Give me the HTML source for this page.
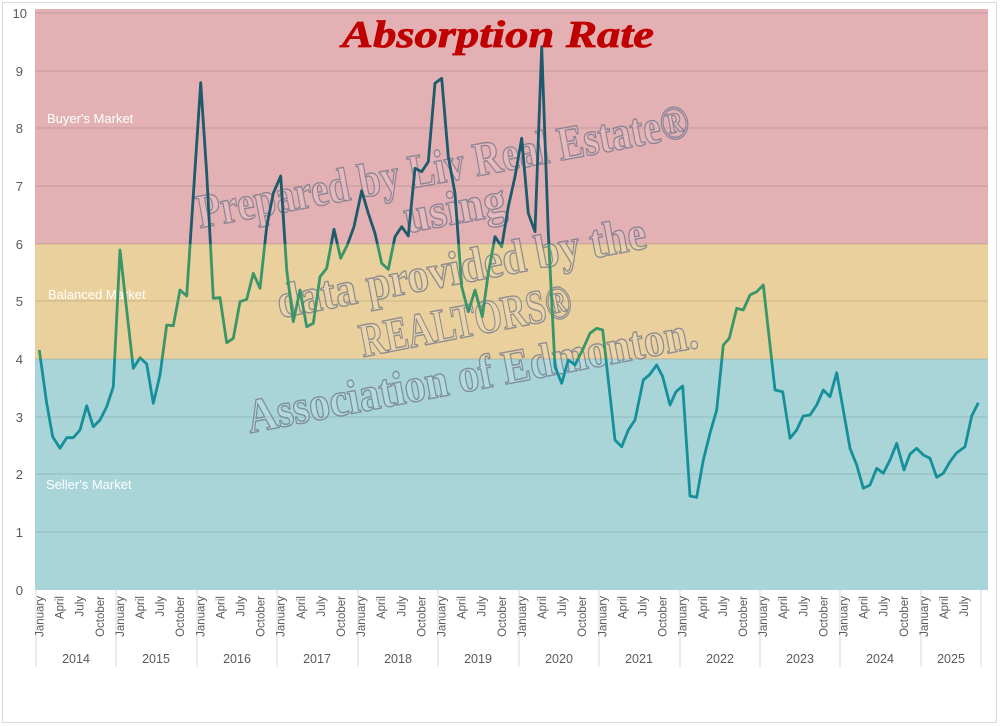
<!DOCTYPE html>
<html><head><meta charset="utf-8"><style>
html,body{margin:0;padding:0;background:#fff;}
svg{display:block;}
</style></head><body>
<svg width="1000" height="726" viewBox="0 0 1000 726" xmlns="http://www.w3.org/2000/svg" font-family="Liberation Sans, sans-serif">
<rect x="2.5" y="2.5" width="994" height="720" fill="#fff" stroke="#d9d9d9"/>
<defs>
<linearGradient id="lg" gradientUnits="userSpaceOnUse" x1="0" y1="13" x2="0" y2="590">
<stop offset="0" stop-color="#1d5a6c"/>
<stop offset="0.4" stop-color="#1d5a6c"/>
<stop offset="0.4" stop-color="#3a9668"/>
<stop offset="0.6" stop-color="#3a9668"/>
<stop offset="0.6" stop-color="#15909a"/>
<stop offset="1" stop-color="#15909a"/>
</linearGradient>
</defs>
<rect x="35" y="9" width="953" height="235" fill="#e3b1b4"/>
<rect x="35" y="244" width="953" height="115" fill="#e9d09d"/>
<rect x="35" y="359" width="953" height="231" fill="#a9d5d8"/>
<g stroke="#000" stroke-opacity="0.12" stroke-width="1">
<line x1="35" x2="988" y1="13" y2="13"/><line x1="35" x2="988" y1="71" y2="71"/><line x1="35" x2="988" y1="128" y2="128"/><line x1="35" x2="988" y1="186" y2="186"/><line x1="35" x2="988" y1="244" y2="244"/><line x1="35" x2="988" y1="301" y2="301"/><line x1="35" x2="988" y1="359" y2="359"/><line x1="35" x2="988" y1="417" y2="417"/><line x1="35" x2="988" y1="474" y2="474"/><line x1="35" x2="988" y1="532" y2="532"/>
</g>
<g font-size="13" fill="#595959" text-anchor="end">
<text x="27" y="18">10</text><text x="23" y="76">9</text><text x="23" y="133">8</text><text x="23" y="191">7</text><text x="23" y="249">6</text><text x="23" y="306">5</text><text x="23" y="364">4</text><text x="23" y="422">3</text><text x="23" y="479">2</text><text x="23" y="537">1</text><text x="23" y="595">0</text>
</g>
<g font-size="13" fill="#fff">
<text x="47" y="123">Buyer's Market</text>
<text x="48" y="299">Balanced Market</text>
<text x="46" y="489">Seller's Market</text>
</g>
<g font-family="Liberation Serif, serif" font-weight="bold" font-size="48" fill="#ffffff" fill-opacity="0.12" stroke="#6f7489" stroke-opacity="0.75" stroke-width="1.4">
<text transform="translate(200,228) rotate(-10.6)" textLength="500" lengthAdjust="spacingAndGlyphs">Prepared by Liv Real Estate®</text>
<text transform="translate(407,233) rotate(-10.6)" textLength="103" lengthAdjust="spacingAndGlyphs">using</text>
<text transform="translate(280,318) rotate(-10.8)" textLength="375" lengthAdjust="spacingAndGlyphs">data provided by the</text>
<text transform="translate(363,357) rotate(-11)" textLength="215" lengthAdjust="spacingAndGlyphs">REALTORS®</text>
<text transform="translate(250,433) rotate(-10.8)" textLength="458" lengthAdjust="spacingAndGlyphs">Association of Edmonton.</text>
</g>
<polyline fill="none" stroke="url(#lg)" stroke-width="2.8" stroke-linejoin="round" points="39.3,350 46.7,403.3 52.7,436.7 60,448.3 66.7,437.7 73.3,437.7 80,430 86.7,405.7 93.3,426.7 100,420 106.7,406.7 113.3,386.7 120,250 126.7,310 133.3,368.3 140,357.7 146.7,364 153.3,403.3 160,375 166.7,325 173.3,325.7 180,290 186.7,296 200.7,82.7 206.7,173.3 213.3,298.3 220,297.7 226.7,342.7 233.3,338.3 240,301.7 246.7,299.3 253.3,273.3 260,288.3 266.7,226.7 273.3,193.3 280.7,176 286.7,270 293.3,321.7 300,290 306.7,326.7 313.3,323.3 320,276.7 326.7,268.3 334,229.3 340.7,258.3 347.3,245 354,226.7 361.7,190.7 368.3,213.3 375,233.3 381.7,263.3 388.3,269.3 395,236.7 401.7,226.7 408.3,236 415,168.3 421.7,171.7 428.3,161.7 435,83.3 441.7,78.3 448.3,156.7 455,193.3 461.7,286.7 468.3,311.7 475,290 482.3,316.7 488.3,273.3 495,236.7 501.7,246.7 508.3,206.7 515,176.7 521.7,138.3 528.3,213.3 535,231.7 541.7,46.7 548.3,233 555,366.7 561.7,383.3 568.3,360 575,365 583.3,348.3 590,333.3 596.7,328.3 602.7,330 615,440 621.7,446.7 628.3,430 635,420 643.3,380 649.3,375 656.7,365 662.7,376.7 670,405 676,391.7 682.7,386 690,496 696.7,497.3 703.3,460 710,433.3 716.7,410 723.3,345 729.3,338.3 736.7,308.3 743.3,310 750,295 756.7,291.7 763.3,285 775,390 782.7,391.7 790,438.3 796.7,430 803.3,416 810,415 816.7,405 823.3,390 830,396.7 836.7,372.7 850,448.3 856.7,465 863.3,488.3 870,485 876.7,468.3 883.3,473.3 890,460 896.7,443.3 904,470 910,454 916.7,448.3 923.3,455 930,458.3 936.7,477.3 943.3,473.3 950,461.7 956.7,452.7 965,446.7 971.7,416 978.3,402.7"/>
<text x="498" y="47" text-anchor="middle" font-family="Liberation Serif, serif" font-weight="bold" font-style="italic" font-size="38" fill="#c00000" stroke="#c00000" stroke-width="0.8" textLength="312" lengthAdjust="spacingAndGlyphs">Absorption Rate</text>
<g stroke="#d9d9d9" stroke-width="1">
<line x1="36" x2="36" y1="590" y2="667"/><line x1="116" x2="116" y1="590" y2="667"/><line x1="197" x2="197" y1="590" y2="667"/><line x1="277" x2="277" y1="590" y2="667"/><line x1="358" x2="358" y1="590" y2="667"/><line x1="438" x2="438" y1="590" y2="667"/><line x1="519" x2="519" y1="590" y2="667"/><line x1="599" x2="599" y1="590" y2="667"/><line x1="680" x2="680" y1="590" y2="667"/><line x1="760" x2="760" y1="590" y2="667"/><line x1="840" x2="840" y1="590" y2="667"/><line x1="921" x2="921" y1="590" y2="667"/><line x1="981" x2="981" y1="590" y2="667"/>
</g>
<g font-size="11.5" fill="#595959" text-anchor="end">
<text transform="translate(43.5,596) rotate(-90)">January</text><text transform="translate(63.6,596) rotate(-90)">April</text><text transform="translate(83.7,596) rotate(-90)">July</text><text transform="translate(103.8,596) rotate(-90)">October</text>
<text transform="translate(123.9,596) rotate(-90)">January</text><text transform="translate(144,596) rotate(-90)">April</text><text transform="translate(164.1,596) rotate(-90)">July</text><text transform="translate(184.2,596) rotate(-90)">October</text>
<text transform="translate(204.3,596) rotate(-90)">January</text><text transform="translate(224.4,596) rotate(-90)">April</text><text transform="translate(244.5,596) rotate(-90)">July</text><text transform="translate(264.6,596) rotate(-90)">October</text>
<text transform="translate(284.7,596) rotate(-90)">January</text><text transform="translate(304.8,596) rotate(-90)">April</text><text transform="translate(324.9,596) rotate(-90)">July</text><text transform="translate(345,596) rotate(-90)">October</text>
<text transform="translate(365.1,596) rotate(-90)">January</text><text transform="translate(385.2,596) rotate(-90)">April</text><text transform="translate(405.3,596) rotate(-90)">July</text><text transform="translate(425.4,596) rotate(-90)">October</text>
<text transform="translate(445.5,596) rotate(-90)">January</text><text transform="translate(465.6,596) rotate(-90)">April</text><text transform="translate(485.7,596) rotate(-90)">July</text><text transform="translate(505.8,596) rotate(-90)">October</text>
<text transform="translate(525.9,596) rotate(-90)">January</text><text transform="translate(546,596) rotate(-90)">April</text><text transform="translate(566.1,596) rotate(-90)">July</text><text transform="translate(586.2,596) rotate(-90)">October</text>
<text transform="translate(606.3,596) rotate(-90)">January</text><text transform="translate(626.4,596) rotate(-90)">April</text><text transform="translate(646.5,596) rotate(-90)">July</text><text transform="translate(666.6,596) rotate(-90)">October</text>
<text transform="translate(686.7,596) rotate(-90)">January</text><text transform="translate(706.8,596) rotate(-90)">April</text><text transform="translate(726.9,596) rotate(-90)">July</text><text transform="translate(747,596) rotate(-90)">October</text>
<text transform="translate(767.1,596) rotate(-90)">January</text><text transform="translate(787.2,596) rotate(-90)">April</text><text transform="translate(807.3,596) rotate(-90)">July</text><text transform="translate(827.4,596) rotate(-90)">October</text>
<text transform="translate(847.5,596) rotate(-90)">January</text><text transform="translate(867.6,596) rotate(-90)">April</text><text transform="translate(887.7,596) rotate(-90)">July</text><text transform="translate(907.8,596) rotate(-90)">October</text>
<text transform="translate(927.9,596) rotate(-90)">January</text><text transform="translate(948,596) rotate(-90)">April</text><text transform="translate(968.1,596) rotate(-90)">July</text>
</g>
<g font-size="12.5" fill="#595959" text-anchor="middle">
<text x="76" y="663">2014</text><text x="156" y="663">2015</text><text x="237" y="663">2016</text><text x="317" y="663">2017</text><text x="398" y="663">2018</text><text x="478" y="663">2019</text><text x="559" y="663">2020</text><text x="639" y="663">2021</text><text x="720" y="663">2022</text><text x="800" y="663">2023</text><text x="880" y="663">2024</text><text x="951" y="663">2025</text>
</g>
</svg>
</body></html>
